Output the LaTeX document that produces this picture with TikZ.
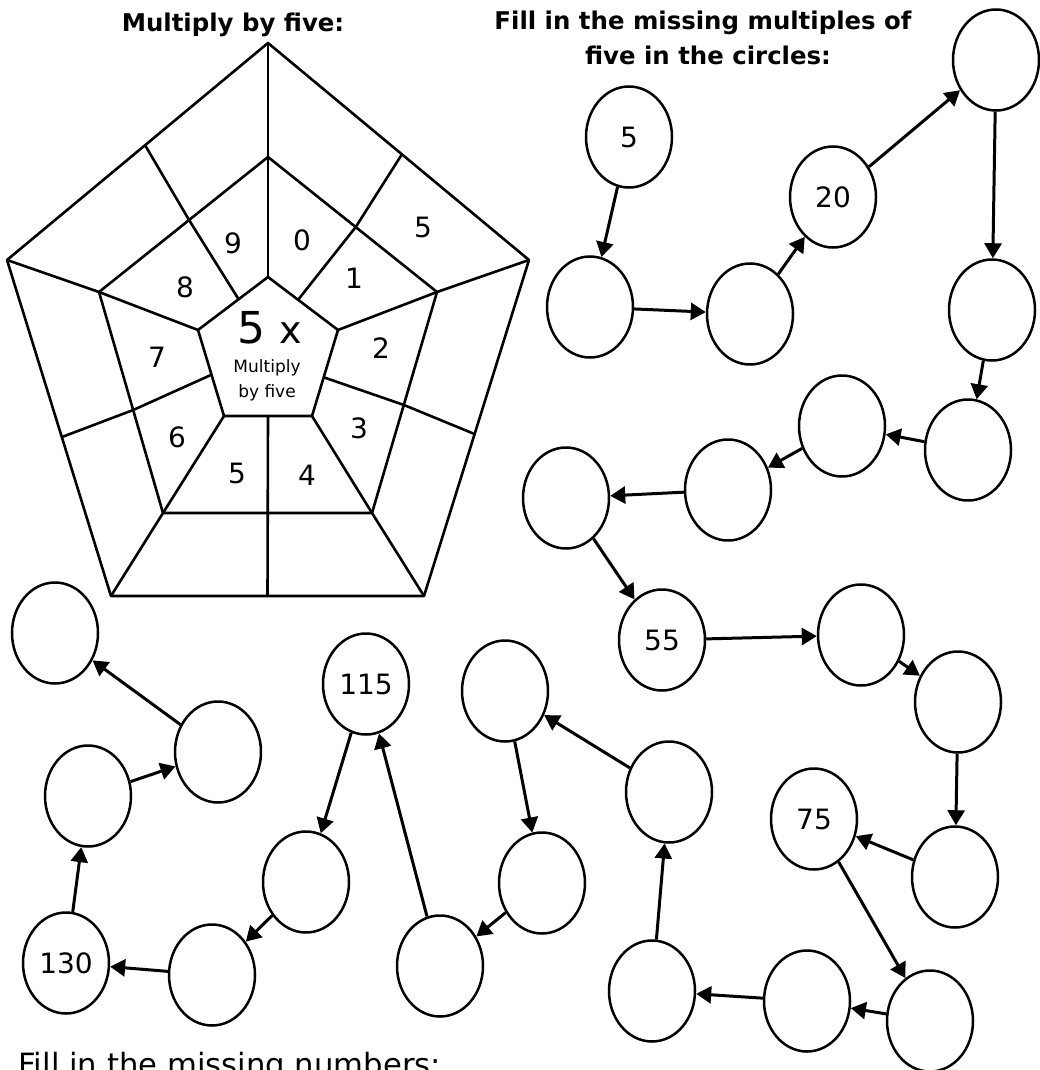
\documentclass[tikz,border=0pt]{standalone}
\usepackage{fontspec}
\setmainfont{DejaVu Sans}
\usetikzlibrary{shapes.geometric,arrows.meta,calc}
\begin{document}
\begin{tikzpicture}[x=1pt,y=-1pt,
  ring/.style={draw, line width=2.5pt, ellipse, minimum width=86pt, minimum height=101pt,
    inner sep=0pt, font=\fontsize{28}{28}\selectfont},
  link/.style={line width=3pt, -{Triangle[length=15pt,width=17pt]}},
  web/.style={line width=2.6pt, line join=round},
  cell/.style={font=\fontsize{28}{28}\selectfont, inner sep=0pt},
  heading/.style={font=\bfseries\fontsize{24.4}{24.4}\selectfont, anchor=base}]

\useasboundingbox (0,0) rectangle (1040,1070);
\clip (0,0) rectangle (1040,1070);

% ---------- headings ----------
\node[heading] (h1) at (233,32) {Multiply by five:};
\node[heading] (h2) at (703,30) {Fill in the missing multiples of};
\node[heading] (h3) at (708,65) {five in the circles:};
\node[anchor=base west, font=\fontsize{30.7}{30.7}\selectfont] (h4) at (15,1075)
  {Fill in the missing numbers:};

% ---------- the pentagon web ----------
% outer, middle and inner pentagons
\coordinate (oT) at (268,43);  \coordinate (oR) at (529,260);
\coordinate (oBR) at (424,596); \coordinate (oBL) at (111,596);
\coordinate (oL) at (7,260);
\coordinate (mT) at (268,157); \coordinate (mR) at (437,292);
\coordinate (mBR) at (372,513); \coordinate (mBL) at (163,513);
\coordinate (mL) at (99,292);
\coordinate (iT) at (268,277); \coordinate (iR) at (338,330);
\coordinate (iBR) at (312,416); \coordinate (iBL) at (224,416);
\coordinate (iL) at (198,330);

\draw[web] (oT) -- (oR) -- (oBR) -- (oBL) -- (oL) -- cycle;
\draw[web] (mT) -- (mR) -- (mBR) -- (mBL) -- (mL) -- cycle;
\draw[web] (iT) -- (iR) -- (iBR) -- (iBL) -- (iL) -- cycle;

% spokes through the corners
\draw[web] (oT) -- (iT);
\draw[web] (oR) -- (mR) -- (iR);
\draw[web] (oBR) -- (mBR) -- (iBR);
\draw[web] (oBL) -- (mBL) -- (iBL);
\draw[web] (oL) -- (mL) -- (iL);

% spokes through the sides
\draw[web] ($(oT)!0.513!(oR)$) -- ($(mT)!0.519!(mR)$) -- ($(iT)!0.43!(iR)$);
\draw[web] ($(oR)!0.518!(oBR)$) -- ($(mR)!0.511!(mBR)$) -- ($(iR)!0.55!(iBR)$);
\draw[web] ($(oBL)!0.5!(oBR)$) -- ($(iBL)!0.5!(iBR)$);
\draw[web] ($(oL)!0.527!(oBL)$) -- ($(mL)!0.534!(mBL)$) -- ($(iL)!0.52!(iBL)$);
\draw[web] ($(oT)!0.471!(oL)$) -- ($(mT)!0.467!(mL)$) -- ($(iT)!0.42!(iL)$);

% digits around the centre
\node[cell] (d0) at (302,240) {0};
\node[cell] (d1) at (354,278) {1};
\node[cell] (d2) at (381,348) {2};
\node[cell] (d3) at (359,428) {3};
\node[cell] (d4) at (307,475) {4};
\node[cell] (d5) at (237,473) {5};
\node[cell] (d6) at (177,437) {6};
\node[cell] (d7) at (157,357) {7};
\node[cell] (d8) at (185,287) {8};
\node[cell] (d9) at (233,243) {9};
\node[cell] (a1) at (423,227) {5};

% centre label
\node[anchor=base, inner sep=0pt] (c1) at (270,343)
  {{\fontsize{44}{44}\selectfont 5}\hspace{14pt}{\fontsize{38}{38}\selectfont x}};
\node[anchor=base, inner sep=0pt, font=\fontsize{17}{17}\selectfont] (c2) at (267,372) {Multiply};
\node[anchor=base, inner sep=0pt, font=\fontsize{17}{17}\selectfont] (c3) at (267,397) {by five};

% ---------- chain of multiples ----------
\node[ring] (A) at (629,137) {5};
\node[ring] (B) at (590,307) {};
\node[ring] (C) at (750,314) {};
\node[ring] (D) at (833,197) {20};
\node[ring] (E) at (996,60) {};
\node[ring] (F) at (992,310) {};
\node[ring] (G) at (968,450) {};
\node[ring] (H) at (842,426) {};
\node[ring] (I) at (728,490) {};
\node[ring] (J) at (566,498) {};
\node[ring] (K) at (662,640) {55};
\node[ring] (L) at (861,635) {};
\node[ring] (M) at (958,702) {};
\node[ring] (N) at (955,877) {};
\node[ring] (O) at (814,819) {75};
\node[ring] (P) at (930,1021) {};
\node[ring] (Q) at (807,1001) {};
\node[ring] (R) at (652,991) {};
\node[ring] (S) at (669,792) {};
\node[ring] (T) at (505,691) {};
\node[ring] (U) at (542,883) {};
\node[ring] (V) at (440,966) {};
\node[ring] (W) at (366,684) {115};
\node[ring] (X) at (306,882) {};
\node[ring] (Y) at (212,975) {};
\node[ring] (Z) at (66,963) {130};
\node[ring] (AA) at (88,796) {};
\node[ring] (AB) at (218,752) {};
\node[ring] (AC) at (55,633) {};

\draw[link] (A) -- (B);
\draw[link] (B) -- (C);
\draw[link] (C) -- (D);
\draw[link] (D) -- (E);
\draw[link] (E) -- (F);
\draw[link] (F) -- (G);
\draw[link] (G) -- (H);
\draw[link] (H) -- (I);
\draw[link] (I) -- (J);
\draw[link] (J) -- (K);
\draw[link] (K) -- (L);
\draw[link] (L) -- (M);
\draw[link] (M) -- (N);
\draw[link] (N) -- (O);
\draw[link] (O) -- (P);
\draw[link] (P) -- (Q);
\draw[link] (Q) -- (R);
\draw[link] (R) -- (S);
\draw[link] (S) -- (T);
\draw[link] (T) -- (U);
\draw[link] (U) -- (V);
\draw[link] (V) -- (W);
\draw[link] (W) -- (X);
\draw[link] (X) -- (Y);
\draw[link] (Y) -- (Z);
\draw[link] (Z) -- (AA);
\draw[link] (AA) -- (AB);
\draw[link] (AB) -- (AC);
\end{tikzpicture}
\end{document}
